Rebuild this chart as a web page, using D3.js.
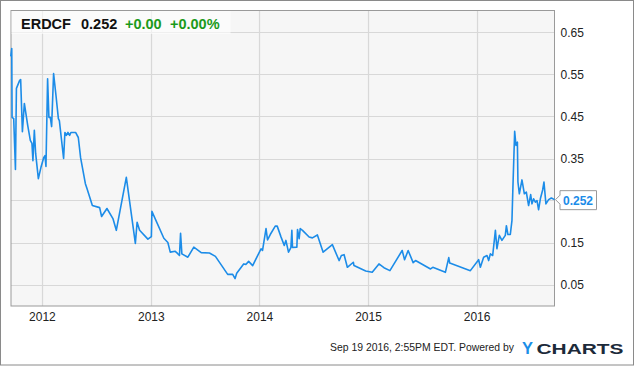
<!DOCTYPE html>
<html>
<head>
<meta charset="utf-8">
<script src="https://cdn.jsdelivr.net/npm/d3@7"></script>
<style>
  body { margin: 0; background: #fff; }
  svg { display: block; font-family: "Liberation Sans", Arial, sans-serif; }
</style>
</head>
<body>
<svg id="chart" width="635" height="366"></svg>
<script>
// ERDCF price (time as decimal year)
var times = [
  2011.713, 2011.722, 2011.725, 2011.740, 2011.756, 2011.765, 2011.795, 2011.804, 2011.820, 2011.838,
  2011.869, 2011.893, 2011.908, 2011.917, 2011.930, 2011.942, 2011.967, 2011.991, 2012.016, 2012.028,
  2012.037, 2012.052, 2012.064, 2012.077, 2012.089, 2012.107, 2012.129, 2012.151, 2012.160, 2012.199,
  2012.211, 2012.224, 2012.239, 2012.254, 2012.266, 2012.309, 2012.334, 2012.355, 2012.399, 2012.413,
  2012.463, 2012.530, 2012.548, 2012.597, 2012.652, 2012.683, 2012.775, 2012.858, 2012.874, 2012.897,
  2012.973, 2013.005, 2013.010, 2013.120, 2013.157, 2013.179, 2013.225, 2013.246, 2013.264, 2013.274,
  2013.286, 2013.341, 2013.396, 2013.464, 2013.540, 2013.595, 2013.708, 2013.754, 2013.776, 2013.791,
  2013.855, 2013.877, 2013.901, 2013.938, 2014.015, 2014.029, 2014.061, 2014.075, 2014.100, 2014.146,
  2014.164, 2014.198, 2014.229, 2014.244, 2014.268, 2014.290, 2014.299, 2014.305, 2014.345, 2014.351,
  2014.366, 2014.376, 2014.397, 2014.458, 2014.488, 2014.534, 2014.587, 2014.672, 2014.734, 2014.755,
  2014.780, 2014.810, 2014.865, 2014.871, 2014.979, 2015.039, 2015.101, 2015.147, 2015.202, 2015.315,
  2015.337, 2015.370, 2015.416, 2015.438, 2015.576, 2015.597, 2015.713, 2015.744, 2015.753, 2015.943,
  2016.019, 2016.035, 2016.065, 2016.096, 2016.111, 2016.127, 2016.148, 2016.173, 2016.187, 2016.209,
  2016.233, 2016.264, 2016.274, 2016.288, 2016.310, 2016.325, 2016.334, 2016.350, 2016.362, 2016.375,
  2016.380, 2016.393, 2016.417, 2016.439, 2016.457, 2016.478, 2016.497, 2016.509, 2016.524, 2016.540,
  2016.555, 2016.570, 2016.586, 2016.607, 2016.619, 2016.637, 2016.662, 2016.687, 2016.716
];
var prices = [
  0.593, 0.612, 0.448, 0.445, 0.324, 0.517, 0.536, 0.538, 0.414, 0.481,
  0.429, 0.393, 0.386, 0.345, 0.417, 0.362, 0.302, 0.329, 0.352, 0.357,
  0.331, 0.540, 0.448, 0.448, 0.426, 0.552, 0.500, 0.445, 0.440, 0.350,
  0.412, 0.405, 0.412, 0.405, 0.412, 0.412, 0.400, 0.352, 0.290, 0.279,
  0.238, 0.233, 0.212, 0.231, 0.207, 0.179, 0.305, 0.148, 0.198, 0.179,
  0.158, 0.164, 0.224, 0.160, 0.150, 0.127, 0.129, 0.124, 0.119, 0.172,
  0.123, 0.115, 0.139, 0.126, 0.125, 0.117, 0.074, 0.074, 0.064, 0.077,
  0.099, 0.098, 0.105, 0.095, 0.135, 0.131, 0.183, 0.156, 0.169, 0.189,
  0.189, 0.164, 0.143, 0.155, 0.127, 0.138, 0.179, 0.138, 0.139, 0.181,
  0.159, 0.183, 0.179, 0.163, 0.161, 0.168, 0.127, 0.145, 0.107, 0.119,
  0.121, 0.091, 0.103, 0.095, 0.082, 0.079, 0.099, 0.090, 0.083, 0.131,
  0.109, 0.131, 0.102, 0.107, 0.087, 0.091, 0.079, 0.114, 0.101, 0.083,
  0.109, 0.091, 0.115, 0.119, 0.107, 0.123, 0.119, 0.179, 0.135, 0.167,
  0.155, 0.167, 0.190, 0.169, 0.169, 0.202, 0.282, 0.415, 0.381, 0.389,
  0.294, 0.266, 0.299, 0.266, 0.270, 0.238, 0.264, 0.242, 0.254, 0.246,
  0.250, 0.228, 0.254, 0.275, 0.294, 0.242, 0.252, 0.256, 0.252
];
var yTicks = [0.05, 0.15, 0.25, 0.35, 0.45, 0.55, 0.65];
var yTickLabels = ["0.05", "0.15", null, "0.35", "0.45", "0.55", "0.65"];
var xTicks = [2012, 2013, 2014, 2015, 2016];

var ticker = "ERDCF", lastPrice = "0.252", change = "+0.00", changePct = "+0.00%";
var lastLabel = "0.252";
var stamp = "Sep 19 2016, 2:55PM EDT. Powered by";

var width = 635, height = 366;
var plot = {left: 11, top: 10.5, right: 554.5, bottom: 306};
var lineColor = "#1c8ce8";

function yearToDate(t) {
  var y = Math.floor(t);
  var a = new Date(y, 0, 1), b = new Date(y + 1, 0, 1);
  return new Date(+a + (t - y) * (b - a));
}

var data = times.map(function(t, i) { return {date: yearToDate(t), value: prices[i]}; });

var svg = d3.select("svg#chart");

var x = d3.scaleTime()
  .domain([new Date(2011, 8, 19), new Date(2016, 8, 19)])
  .range([plot.left, plot.right]);

var y = d3.scaleLinear()
  .domain([0, 0.7])
  .range([305.5, 11.5]);

// outer frame
svg.append("rect")
  .attr("x", 0.5).attr("y", 0.5)
  .attr("width", 633).attr("height", 364.5)
  .attr("fill", "#fff")
  .attr("stroke", "#8a8a8a");

// plot background
svg.append("rect")
  .attr("x", plot.left).attr("y", plot.top)
  .attr("width", plot.right - plot.left).attr("height", plot.bottom - plot.top)
  .attr("fill", "#f6f6f6");

// grid
var grid = svg.append("g").attr("class", "grid");
grid.selectAll("line.h")
  .data(yTicks)
  .enter().append("line")
  .attr("class", "h")
  .attr("x1", plot.left).attr("x2", plot.right)
  .attr("y1", function(d) { return Math.round(y(d)) + 0.5; })
  .attr("y2", function(d) { return Math.round(y(d)) + 0.5; })
  .attr("stroke", "#d8d8d8")
  .attr("stroke-width", 1.2);

grid.selectAll("line.v")
  .data(xTicks)
  .enter().append("line")
  .attr("class", "v")
  .attr("x1", function(d) { return Math.round(x(new Date(d, 0, 1))) + 0.5; })
  .attr("x2", function(d) { return Math.round(x(new Date(d, 0, 1))) + 0.5; })
  .attr("y1", plot.top).attr("y2", plot.bottom)
  .attr("stroke", "#d8d8d8")
  .attr("stroke-width", 1.2);

// plot border
svg.append("rect")
  .attr("x", plot.left).attr("y", plot.top)
  .attr("width", plot.right - plot.left).attr("height", plot.bottom - plot.top)
  .attr("fill", "none")
  .attr("stroke", "#9a9a9a");

// axes (labels only)
var yAxis = d3.axisRight(y)
  .tickValues(yTicks)
  .tickSize(0)
  .tickPadding(6)
  .tickFormat(function(d, i) { return yTickLabels[i] || ""; });

svg.append("g")
  .attr("transform", "translate(" + plot.right + ",0)")
  .call(yAxis)
  .call(function(g) { g.select(".domain").remove(); })
  .selectAll("text")
  .attr("font-family", "Liberation Sans, Arial, sans-serif")
  .attr("font-size", 12)
  .attr("fill", "#222");

var xAxis = d3.axisBottom(x)
  .tickValues(xTicks.map(function(d) { return new Date(d, 0, 1); }))
  .tickSize(0)
  .tickPadding(6)
  .tickFormat(d3.timeFormat("%Y"));

svg.append("g")
  .attr("transform", "translate(0," + plot.bottom + ")")
  .call(xAxis)
  .call(function(g) { g.select(".domain").remove(); })
  .selectAll("text")
  .attr("font-family", "Liberation Sans, Arial, sans-serif")
  .attr("font-size", 12)
  .attr("fill", "#222");

// price line
var line = d3.line()
  .x(function(d) { return x(d.date); })
  .y(function(d) { return y(d.value); });

svg.append("path")
  .datum(data)
  .attr("d", line)
  .attr("fill", "none")
  .attr("stroke", lineColor)
  .attr("stroke-width", 1.6)
  .attr("stroke-linejoin", "round");

// last value tag
var last = data[data.length - 1];
var ly = y(last.value);
var tag = svg.append("g");
tag.append("path")
  .attr("d", "M" + (plot.right + 1) + "," + ly +
    " L" + (plot.right + 5.5) + "," + (ly - 4.5) +
    " L" + (plot.right + 5.5) + "," + (ly - 9) +
    " L" + (plot.right + 42) + "," + (ly - 9) +
    " L" + (plot.right + 42) + "," + (ly + 10) +
    " L" + (plot.right + 5.5) + "," + (ly + 10) +
    " L" + (plot.right + 5.5) + "," + (ly + 4.5) + " Z")
  .attr("fill", "#fff")
  .attr("stroke", "#999");
tag.append("text")
  .attr("x", plot.right + 8.5)
  .attr("y", ly + 5)
  .attr("font-size", 12)
  .attr("font-weight", "bold")
  .attr("fill", lineColor)
  .text(lastLabel);

// header box
var head = svg.append("g");
head.append("rect")
  .attr("x", plot.left + 0.5).attr("y", plot.top + 0.5)
  .attr("width", 219).attr("height", 23)
  .attr("fill", "#fff")
  .attr("fill-opacity", 0.6);
var headText = head.append("text")
  .attr("y", 29.3)
  .attr("font-size", 14.5)
  .attr("font-weight", "bold");
headText.append("tspan").attr("x", 21).attr("fill", "#111").text(ticker);
headText.append("tspan").attr("x", 81).attr("fill", "#111").text(lastPrice);
headText.append("tspan").attr("x", 125).attr("fill", "#1a9a1a").text(change);
headText.append("tspan").attr("x", 170).attr("fill", "#1a9a1a").text(changePct);

// footer
svg.append("text")
  .attr("x", 330).attr("y", 351)
  .attr("font-size", 10.7)
  .attr("fill", "#222")
  .attr("textLength", 184)
  .attr("lengthAdjust", "spacingAndGlyphs")
  .text(stamp);

svg.append("text")
  .attr("x", 522).attr("y", 353.5)
  .attr("font-size", 16.5)
  .attr("font-weight", "bold")
  .attr("fill", "#1a8fe8")
  .text("Y");
svg.append("text")
  .attr("x", 536.5).attr("y", 353.5)
  .attr("font-size", 15.5)
  .attr("font-weight", "bold")
  .attr("fill", "#1c2a3a")
  .attr("textLength", 87)
  .attr("lengthAdjust", "spacingAndGlyphs")
  .text("CHARTS");
</script>
</body>
</html>
